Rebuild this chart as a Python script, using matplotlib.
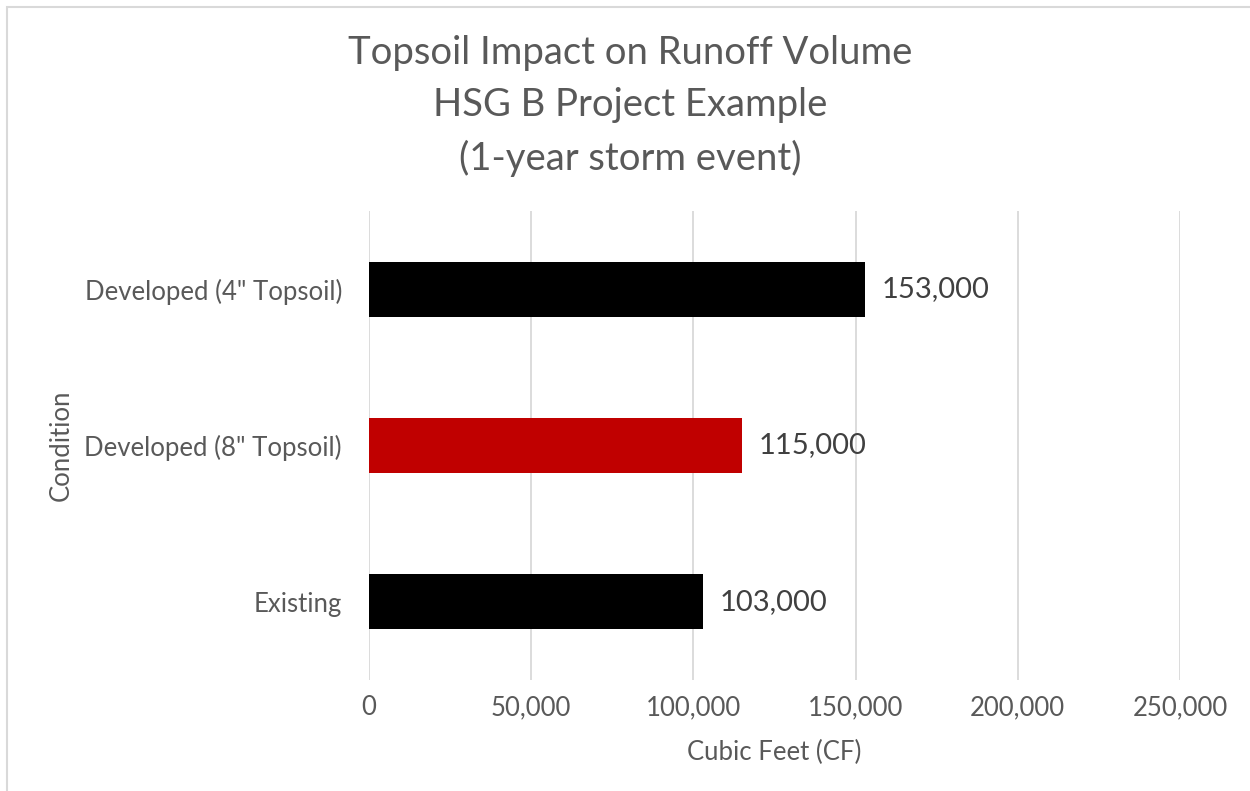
import matplotlib.pyplot as plt
from matplotlib.patches import Rectangle

# chart data
conditions = ['Existing', 'Developed (8" Topsoil)', 'Developed (4" Topsoil)']
volumes = [103000, 115000, 153000]
bar_colors = ['#000000', '#C00000', '#000000']
x_ticks = [0, 50000, 100000, 150000, 200000, 250000]

plt.rcParams['font.family'] = ['Lato', 'DejaVu Sans']

fig = plt.figure(figsize=(12.5, 7.91), dpi=100)
# plot area in figure fractions (left 369px, right 1180px, top 211px, bottom 680px)
ax = fig.add_axes([369/1250, 1 - 680/791, (1180 - 369)/1250, (680 - 211)/791])

# light grey chart border
fig.patches.append(Rectangle((7/1250, -0.01), 1.02, 1 - 7/791 + 0.01, transform=fig.transFigure,
                             fill=False, edgecolor='#D9D9D9', linewidth=1.5))

ax.barh(range(len(conditions)), volumes, height=0.35, color=bar_colors, zorder=3)

for i, v in enumerate(volumes):
    ax.text(v + 5000, i, f'{v:,}', va='center', ha='left', fontsize=21, color='#404040')

ax.set_xlim(0, 250000)
ax.set_ylim(-0.5, 2.5)
ax.set_xticks(x_ticks)
ax.set_xticklabels([f'{t:,}' for t in x_ticks])
ax.set_yticks(range(len(conditions)))
ax.set_yticklabels(conditions)
ax.tick_params(axis='both', length=0, labelsize=18.5, labelcolor='#595959')
ax.tick_params(axis='x', pad=11)
ax.tick_params(axis='y', pad=19.5)

ax.grid(axis='x', color='#D9D9D9', linewidth=1.3, zorder=0)
for s in ax.spines.values():
    s.set_visible(False)

ax.set_xlabel('Cubic Feet (CF)', fontsize=18.5, color='#595959', labelpad=14)
ax.set_ylabel('Condition', fontsize=18.5, color='#595959', labelpad=8)

fig.suptitle('Topsoil Impact on Runoff Volume\nHSG B Project Example\n(1-year storm event)',
             x=630/1250, y=1 - 35/791, fontsize=27.5, color='#595959',
             linespacing=1.55, va='top')

fig.savefig('out.png', dpi=100, facecolor='white')
